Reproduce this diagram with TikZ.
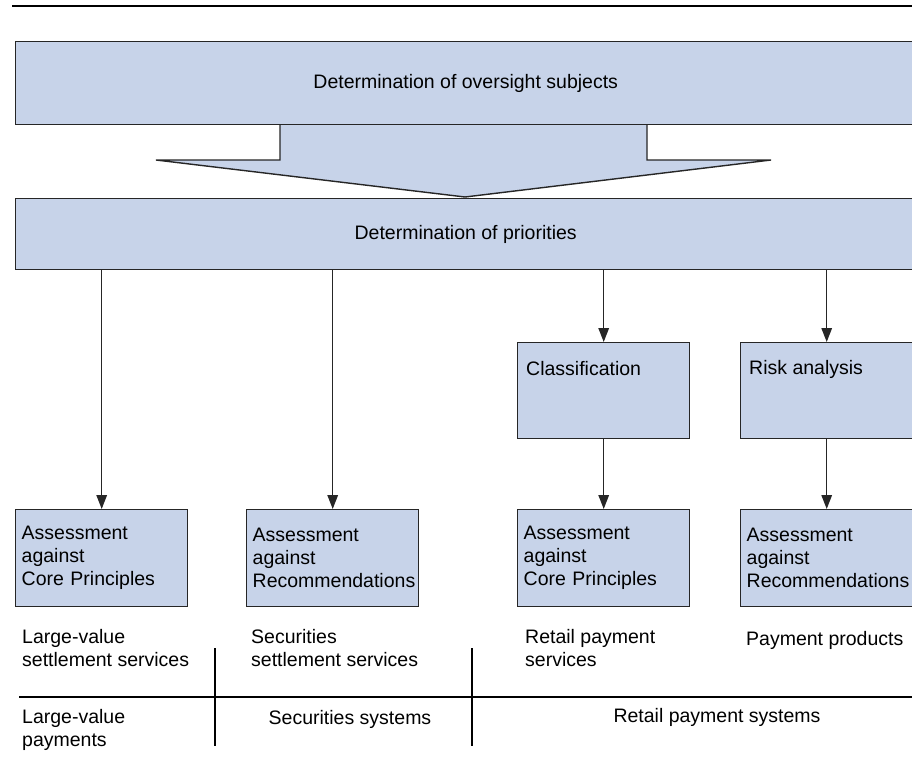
\documentclass[tikz,border=0pt]{standalone}
\usepackage{fontspec}
\setmainfont{Liberation Sans}
\usetikzlibrary{arrows.meta}

\definecolor{boxblue}{RGB}{199,211,233}

\tikzset{
  box/.style={draw=black!85, fill=boxblue, line width=1.4pt, inner sep=0pt, anchor=north west},
  txt/.style={inner sep=0pt, align=left, font=\fontsize{19.5}{23}\selectfont},
  arr/.style={-{Triangle[length=14pt,width=10.5pt]}, line width=1.5pt, black!85},
}

\begin{document}
\begin{tikzpicture}[x=1pt,y=-1pt]
    \useasboundingbox (0,0) rectangle (912,780);
    \draw[line width=1.4pt] (12,6) -- (912,6);

    % wide arrow between the two bands
    \fill[boxblue] (280,124) -- (280,160) -- (156,160) -- (465,197) -- (771,160) -- (647,160) -- (647,124) -- cycle;
    \draw[line width=1.4pt, black!85] (280,124) -- (280,160) -- (156,160) -- (465,197) -- (771,160) -- (647,160) -- (647,124);

    \node[box, txt, minimum width=901pt, minimum height=83pt, align=center] (subj) at (14.5,41) {Determination of oversight subjects};
    \node[box, txt, minimum width=901pt, minimum height=71pt, align=center] (prio) at (14.5,198) {Determination of priorities};

    \node[box, minimum width=172pt, minimum height=96pt] (cls) at (517,342) {};
    \node[box, minimum width=172pt, minimum height=96pt] (risk) at (740,342) {};
    \node[txt, anchor=west] (clstxt) at ([xshift=9pt,yshift=-27pt]cls.north west) {Classification};
    \node[txt, anchor=west] (risktxt) at ([xshift=9pt,yshift=-27pt]risk.north west) {Risk analysis};

    \node[box, txt, minimum height=97pt, text width=160pt, inner xsep=6pt] (ass1) at (15,509) {Assessment\\against\\Core Principles};
    \node[box, txt, minimum height=97pt, text width=160pt, inner xsep=6pt] (ass2) at (246,509) {Assessment\\against\\Recommendations};
    \node[box, txt, minimum height=97pt, text width=160pt, inner xsep=6pt] (ass3) at (517,509) {Assessment\\against\\Core Principles};
    \node[box, txt, minimum height=97pt, text width=160pt, inner xsep=6pt] (ass4) at (740,509) {Assessment\\against\\Recommendations};

    \draw[arr] (prio.south -| ass1.north) -- (ass1.north);
    \draw[arr] (prio.south -| ass2.north) -- (ass2.north);
    \draw[arr] (prio.south -| cls.north) -- (cls.north);
    \draw[arr] (prio.south -| risk.north) -- (risk.north);
    \draw[arr] (cls) -- (ass3);
    \draw[arr] (risk) -- (ass4);

    \node[txt, anchor=north west] (svc1) at (22,629) {Large-value\\settlement services};
    \node[txt, anchor=north west] (svc2) at (251,629) {Securities\\settlement services};
    \node[txt, anchor=north west] (svc3) at (525,629) {Retail payment\\services};
    \node[txt, anchor=north west] (svc4) at (746,631) {Payment products};

    \draw[line width=1.2pt] (19,697) -- (912,697);
    \draw[line width=1.2pt] (215,648) -- (215,746);
    \draw[line width=1.2pt] (472,648) -- (472,746);

    \node[txt, anchor=north west] (sys1) at (22,709) {Large-value\\payments};
    \node[txt] (sys2) at (350,719) {Securities systems};
    \node[txt] (sys3) at (717,717) {Retail payment systems};
\end{tikzpicture}
\end{document}
